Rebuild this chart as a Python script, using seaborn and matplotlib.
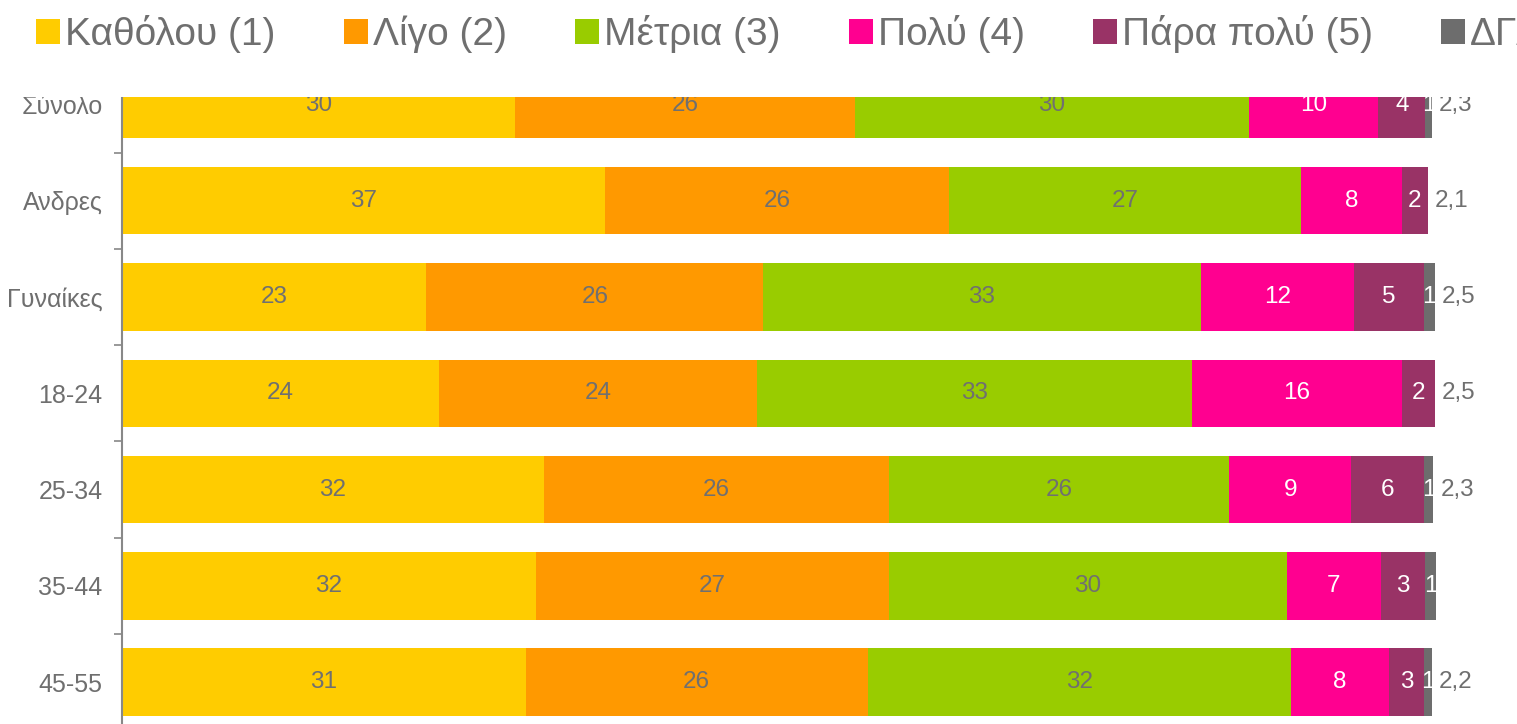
import numpy as np
import pandas as pd
import matplotlib
matplotlib.use("Agg")
import matplotlib.pyplot as plt
import seaborn as sns
from matplotlib.patches import Patch, Rectangle

# ---- data ----
groups = ["Σύνολο", "Ανδρες", "Γυναίκες", "18-24", "25-34", "35-44", "45-55"]
answers = ["Καθόλου (1)", "Λίγο (2)", "Μέτρια (3)", "Πολύ (4)", "Πάρα πολύ (5)", "ΔΓ/ΔΑ"]
colors = ["#FFCC00", "#FF9900", "#99CC00", "#FF0090", "#993366", "#6D6D6D"]

# shares (%) as drawn, one list per answer
katholou = [30.1, 37.0, 23.3, 24.3, 32.3, 31.7, 30.9]
ligo = [26.0, 26.3, 25.8, 24.3, 26.4, 27.0, 26.2]
metria = [30.2, 27.0, 33.5, 33.3, 26.1, 30.5, 32.4]
poly = [9.9, 7.7, 11.7, 16.1, 9.3, 7.2, 7.5]
para_poly = [3.6, 2.0, 5.4, 2.5, 5.6, 3.4, 2.7]
dk = [0.5, 0.0, 0.8, 0.0, 0.7, 0.8, 0.6]

# labels printed on the bars
katholou_lbl = [30, 37, 23, 24, 32, 32, 31]
ligo_lbl = [26, 26, 26, 24, 26, 27, 26]
metria_lbl = [30, 27, 33, 33, 26, 30, 32]
poly_lbl = [10, 8, 12, 16, 9, 7, 8]
para_poly_lbl = [4, 2, 5, 2, 6, 3, 3]
dk_lbl = [1, None, 1, None, 1, 1, 1]

means = ["2,3", "2,1", "2,5", "2,5", "2,3", "", "2,2"]

series = [katholou, ligo, metria, poly, para_poly, dk]
series_lbl = [katholou_lbl, ligo_lbl, metria_lbl, poly_lbl, para_poly_lbl, dk_lbl]
label_colors = ["#707070", "#707070", "#707070", "white", "white", "white"]

grey = "#6F6F6F"
plt.rcParams["font.family"] = ["Liberation Sans", "DejaVu Sans"]

fig = plt.figure(figsize=(15.17, 7.24), dpi=100)
W, H = 1517, 724
ax = fig.add_axes([122 / W, 0, 1 - 122 / W, 1 - 97 / H])

# ---- stacked bars: draw cumulative totals, longest first ----
vals = np.array(series)
cum = np.cumsum(vals, axis=0)
for k in range(len(series) - 1, -1, -1):
    df = pd.DataFrame({"group": groups, "value": cum[k]})
    sns.barplot(data=df, x="value", y="group", order=groups, orient="y",
                color=colors[k], saturation=1, width=0.7, ax=ax)

# ---- value labels ----
for k in range(len(series)):
    left = cum[k] - vals[k]
    for i, g in enumerate(groups):
        lbl = series_lbl[k][i]
        if lbl is None:
            continue
        ax.text(left[i] + vals[k][i] / 2, i, str(lbl), ha="center", va="center",
                fontsize=17.5, color=label_colors[k])

# mean score right of each bar
for i, m in enumerate(means):
    ax.text(cum[-1][i] + 0.55, i, m, ha="left", va="center", fontsize=17.5, color=grey)

ax.set_xlabel("")
ax.set_ylabel("")
ax.set_xticks([])
ax.set_yticks(range(len(groups)))
ax.set_yticklabels(groups, fontsize=18, color=grey)
ax.set_yticks(np.arange(-0.5, len(groups), 1), minor=True)
ax.tick_params(axis="y", which="major", length=0, pad=14)
ax.tick_params(axis="y", which="minor", length=6, width=1.2, color="#888888", direction="out")
ax.set_xlim(0, (W - 122) / 13.06)
ax.set_ylim(6.435, -0.078)
for s in ["top", "right", "bottom"]:
    ax.spines[s].set_visible(False)
ax.spines["left"].set_color("#888888")
ax.spines["left"].set_linewidth(1.5)

# white band over the top (chart is cut there), legend above it
fig.patches.append(Rectangle((0, 1 - 97 / H), 1, 97 / H, transform=fig.transFigure,
                             facecolor="white", edgecolor="none", zorder=1))

handles = [Patch(facecolor=c, edgecolor="none") for c in colors]
fig.legend(handles, answers, loc="upper left", bbox_to_anchor=(36 / W, 1 - 15 / H),
           ncol=6, frameon=False, fontsize=28, labelcolor=grey,
           handlelength=0.62, handleheight=0.62, handletextpad=0.13,
           columnspacing=1.75, borderaxespad=0, borderpad=0)

fig.savefig("out.png", dpi=100)
